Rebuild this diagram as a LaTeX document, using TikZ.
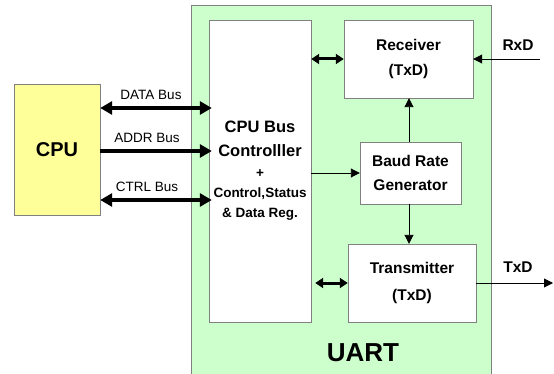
\documentclass[tikz,border=0pt]{standalone}
\usepackage{fontspec}
\setmainfont{Liberation Sans}
\usetikzlibrary{positioning,arrows.meta}
\definecolor{uartgreen}{RGB}{204,255,204}
\definecolor{cpuyellow}{RGB}{255,255,153}
\definecolor{boxgray}{RGB}{128,128,128}

\begin{document}
\begin{tikzpicture}[x=1pt, y=-1pt,
    block/.style={rectangle, draw=boxgray, fill=white, inner sep=0pt, align=center, font=\bfseries\fontsize{15.5}{25}\selectfont},
    bus/.style={{Triangle[length=12pt,width=13pt]}-{Triangle[length=12pt,width=13pt]}, line width=3.5pt},
    shortbus/.style={{Triangle[length=8pt,width=10pt]}-{Triangle[length=8pt,width=10pt]}, line width=3pt},
    line/.style={-{Triangle[length=9pt,width=9pt]}, line width=0.9pt},
    buslabel/.style={font=\fontsize{13.5}{13.5}\selectfont},
    pinlabel/.style={font=\bfseries\fontsize{15.5}{15.5}\selectfont}
]
\useasboundingbox (0,0) rectangle (554,374);

% UART container
\node[draw=boxgray, fill=uartgreen, anchor=north west, minimum width=300, minimum height=390, inner sep=0pt] (uart) at (191,5) {};
\node[font=\bfseries\fontsize{26}{26}\selectfont] (uartname) at (363,353) {UART};

% blocks
\node[block, fill=cpuyellow, minimum width=86, minimum height=131, font=\bfseries\fontsize{20}{20}\selectfont] (cpu) at (57,149.5) {CPU};
\node[block, minimum width=102, minimum height=302, font=\bfseries\fontsize{13}{20}\selectfont] (ctrl) at (260,171)
    {\fontsize{16.5}{20}\selectfont CPU Bus\\[4pt]\fontsize{16.5}{20}\selectfont Controlller\\[1pt]\fontsize{13.5}{20}\selectfont +\\\fontsize{13.5}{20}\selectfont Control,Status\\\fontsize{13.5}{20}\selectfont \& Data Reg.};
\node[block, minimum width=129, minimum height=78] (rx) at (408.5,59) {Receiver\\(TxD)};
\node[block, minimum width=101, minimum height=62, font=\bfseries\fontsize{15.5}{24}\selectfont] (baud) at (410.5,173) {Baud Rate\\Generator};
\node[block, minimum width=128, minimum height=78, font=\bfseries\fontsize{15.5}{27}\selectfont] (tx) at (412,283) {Transmitter\\(TxD)};

% serial pins
\coordinate (rxd) at (540,59);
\coordinate (txd) at (553,283);
\node[pinlabel] (rxdname) at (518,45) {RxD};
\node[pinlabel] (txdname) at (518,267) {TxD};

% CPU side buses
\draw[bus] (cpu.east |- 0,108) -- node[buslabel, above=3pt, xshift=-5pt] {DATA Bus} ([xshift=3pt]ctrl.west |- 0,108);
\draw[bus, -{Triangle[length=12pt,width=13pt]}] (cpu.east |- 0,151) -- node[buslabel, above=3pt, xshift=-9pt] {ADDR Bus} ([xshift=3pt]ctrl.west |- 0,151);
\draw[bus] (cpu.east |- 0,200) -- node[buslabel, above=3pt, xshift=-9pt] {CTRL Bus} ([xshift=3pt]ctrl.west |- 0,200);

% internal connections
\draw[shortbus] (ctrl.east |- rx.west) -- (rx.west);
\draw[shortbus] ([xshift=4pt]ctrl.east |- tx.west) -- (tx.west);
\draw[line] (ctrl.east |- baud.west) -- (baud.west);
\draw[line] ([xshift=-1.5pt]baud.north) -- ([xshift=-1.5pt]baud.north |- rx.south);
\draw[line] ([xshift=-1.5pt]baud.south) -- ([xshift=-1.5pt]baud.south |- tx.north);
\draw[line] (rxd) -- (rx.east);
\draw[line] (tx.east) -- (txd);

\end{tikzpicture}
\end{document}
